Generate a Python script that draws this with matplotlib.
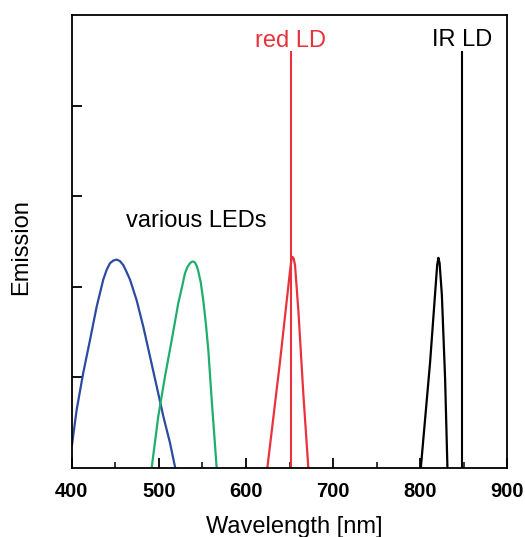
import numpy as np
import matplotlib.pyplot as plt

plt.rcParams['font.family'] = ['Liberation Sans', 'DejaVu Sans']

# emission curves (wavelength nm, arbitrary emission)
blue_x = [400, 405.4, 413, 420.7, 428.4, 436, 440, 443.7, 447.5, 451.4, 455, 459, 462.5, 466.7,
          474.4, 482, 489.7, 497.4, 505, 512.6, 518.7]
blue_y = [0.25, 0.64, 1.05, 1.41, 1.78, 2.08, 2.19, 2.26, 2.29, 2.30, 2.285, 2.24, 2.17, 2.08,
          1.85, 1.56, 1.23, 0.90, 0.57, 0.28, 0.0]

green_x = [491.6, 499.2, 506.9, 514.6, 522.2, 526.5, 529.9, 532.8, 535.6, 537.5, 539.4, 541.5,
           543.4, 545.2, 548, 550.9, 553.8, 556.7, 560.6, 566.3]
green_y = [0.0, 0.57, 1.01, 1.41, 1.82, 2.00, 2.15, 2.22, 2.26, 2.275, 2.28, 2.265, 2.23, 2.17,
           2.05, 1.85, 1.60, 1.30, 0.75, 0.0]

red_x = [624.5, 639.0, 650.6, 652.2, 653.4, 654.8, 656.3, 660.2, 665.9, 671.6]
red_y = [0.0, 1.17, 2.18, 2.30, 2.33, 2.31, 2.24, 1.73, 0.81, 0.0]

ir_x = [800.8, 811.5, 819.6, 821.0, 822.4, 825.0, 828.7, 831.4]
ir_y = [0.0, 1.17, 2.24, 2.32, 2.26, 1.91, 0.99, 0.0]

# laser diode lines
red_ld = 651.7
ir_ld = 848.6
ld_top = 4.59

xticks = [400, 500, 600, 700, 800, 900]

c_blue = '#2b4aa0'
c_green = '#1fae6c'
c_red = '#e8333c'

fig = plt.figure(figsize=(5.25, 5.37), dpi=100)
ax = fig.add_axes([0.137, 0.1285, 0.829, 0.8435])

ax.plot(blue_x, blue_y, color=c_blue, lw=1.6)
ax.plot(green_x, green_y, color=c_green, lw=1.6)
ax.plot(red_x, red_y, color=c_red, lw=1.6)
ax.plot(ir_x, ir_y, color='black', lw=1.6)
ax.plot([red_ld, red_ld], [0, ld_top], color=c_red, lw=1.5)
ax.plot([ir_ld, ir_ld], [0, ld_top], color='black', lw=1.5)

ax.text(650.6, 4.71, 'red LD', color=c_red, fontsize=17, ha='center', va='center')
ax.text(848, 4.72, 'IR LD', color='black', fontsize=17, ha='center', va='center')
ax.text(542.5, 2.73, 'various LEDs', color='black', fontsize=17, ha='center', va='center')

ax.set_xlim(400, 900)
ax.set_ylim(0, 5)
ax.set_xticks(xticks)
ax.set_xticklabels([str(t) for t in xticks], fontweight='bold', fontsize=14.5)
ax.set_xticks(np.arange(450, 900, 100), minor=True)
ax.set_yticks([1, 2, 3, 4])
ax.set_yticklabels([])
ax.tick_params(axis='both', which='major', direction='in', length=7, width=1.3, pad=10)
ax.tick_params(axis='x', which='minor', direction='in', length=4, width=1.1)
for s in ax.spines.values():
    s.set_linewidth(1.3)

ax.set_xlabel('Wavelength [nm]', fontsize=17)
ax.set_ylabel('Emission', fontsize=17)
ax.xaxis.set_label_coords(0.51, -0.106)
ax.yaxis.set_label_coords(-0.092, 0.487)

fig.savefig('out.png', dpi=100)
